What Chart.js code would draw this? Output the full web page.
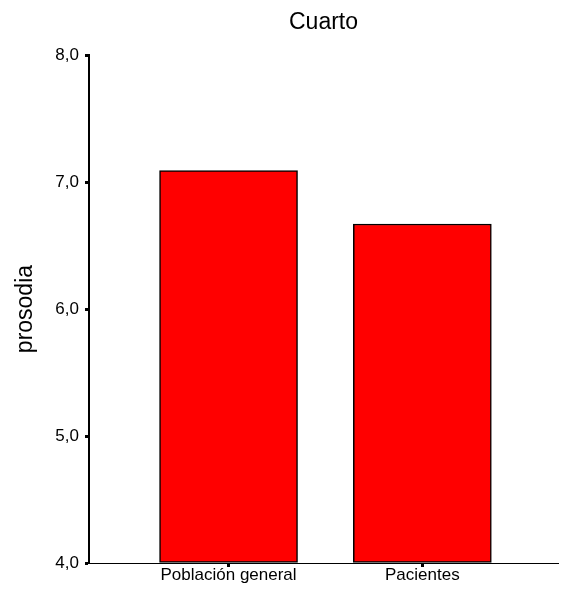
<!DOCTYPE html>
<html>
<head>
<meta charset="utf-8">
<script src="https://cdn.jsdelivr.net/npm/chart.js@4/dist/chart.umd.min.js"></script>
<style>
  body { margin: 0; background: #fff; }
  canvas { display: block; }
</style>
</head>
<body>
<canvas id="chart" width="563" height="597"></canvas>
<script>
const categories = ['Población general', 'Pacientes'];
const positions = [1, 2];
const values = [7.09, 6.67];
const yTickValues = [4, 5, 6, 7, 8];

Chart.defaults.font.family = '"Liberation Sans", Arial, sans-serif';
Chart.defaults.color = '#000';

const ctx = document.getElementById('chart').getContext('2d');
new Chart(ctx, {
  type: 'bar',
  data: {
    datasets: [{
      data: positions.map((p, i) => ({ x: p, y: values[i] })),
      backgroundColor: '#ff0000',
      borderColor: '#000',
      borderWidth: 1.5,
      borderSkipped: false,
      barThickness: 138,
      base: 4
    }]
  },
  options: {
    responsive: false,
    devicePixelRatio: 1,
    animation: false,
    layout: { padding: { left: 0, right: 5, top: 0, bottom: 0 } },
    plugins: {
      legend: { display: false },
      tooltip: { enabled: false },
      title: {
        display: true,
        text: 'Cuarto',
        fullSize: false,
        color: '#000',
        font: { size: 23, weight: 'normal' },
        padding: { top: 8.5, bottom: 19 }
      }
    },
    scales: {
      x: {
        type: 'linear',
        min: 0.28,
        max: 2.7,
        offset: false,
        afterFit: s => { s.height = 34; },
        afterBuildTicks: s => { s.ticks = positions.map(v => ({ value: v })); },
        grid: { drawOnChartArea: false, offset: false, tickLength: 4, tickWidth: 3, color: '#000' },
        border: { color: '#000', width: 1 },
        ticks: {
          padding: -2,
          font: { size: 17 },
          color: '#000',
          autoSkip: false,
          maxRotation: 0,
          callback: v => categories[positions.indexOf(v)] || ''
        }
      },
      y: {
        min: 4,
        max: 8,
        afterFit: s => { s.width = 89; },
        afterBuildTicks: s => { s.ticks = yTickValues.map(v => ({ value: v })); },
        grid: { drawOnChartArea: false, tickLength: 4, tickWidth: 3, color: '#000' },
        border: { color: '#000', width: 2 },
        ticks: {
          padding: 6,
          font: { size: 17 },
          color: '#000',
          callback: v => v.toFixed(1).replace('.', ',')
        },
        title: {
          display: true,
          text: 'prosodia',
          color: '#000',
          font: { size: 23, weight: 'normal' },
          padding: { top: 11.5, bottom: 0 }
        }
      }
    }
  }
});
</script>
</body>
</html>
